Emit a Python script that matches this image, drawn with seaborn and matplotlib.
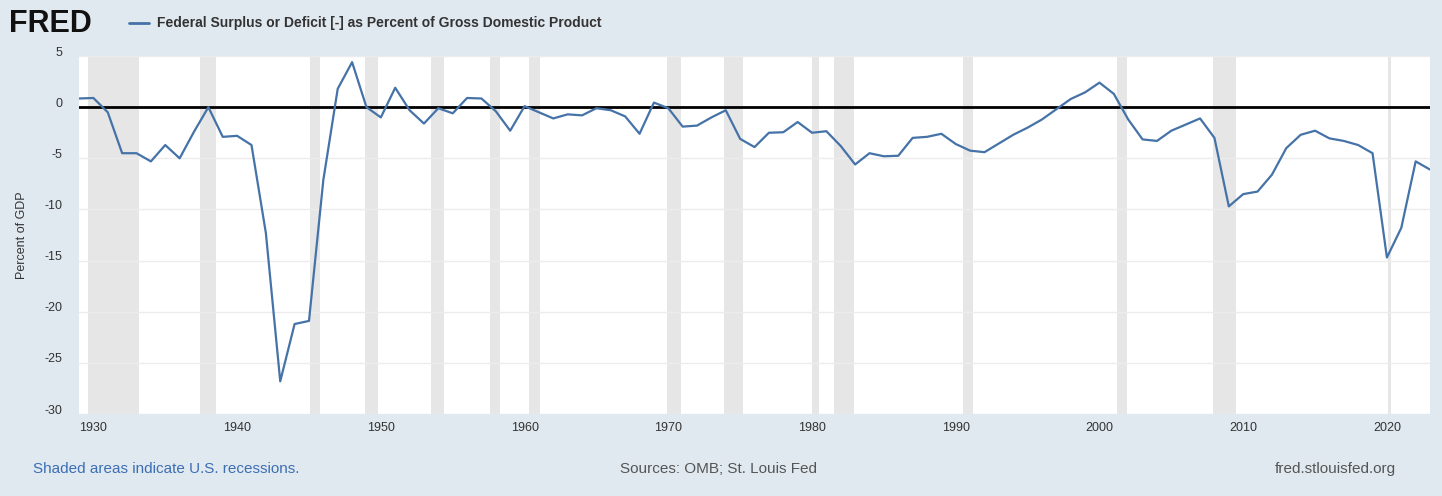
import numpy as np
import pandas as pd
import matplotlib
matplotlib.use("Agg")
import matplotlib.pyplot as plt
import matplotlib.transforms as mtransforms
import seaborn as sns

# Federal surplus or deficit [-] as % of GDP, annual 1929-2023
years = list(range(1929, 2024))
surplus_pct = [
    0.85, 0.9, -0.5, -4.5, -4.5, -5.3, -3.7, -5.0, -2.4, 0.0,      # 1929-1938
    -2.9, -2.8, -3.7, -12.3, -26.8, -21.2, -20.9, -7.1, 1.8, 4.4,  # 1939-1948
    0.0, -1.0, 1.9, -0.3, -1.6, -0.1, -0.6, 0.9, 0.85, -0.4,       # 1949-1958
    -2.3, 0.1, -0.5, -1.1, -0.7, -0.8, -0.1, -0.3, -0.9, -2.6,     # 1959-1968
    0.45, -0.1, -1.9, -1.8, -1.0, -0.3, -3.1, -3.9, -2.5, -2.45,   # 1969-1978
    -1.45, -2.5, -2.35, -3.8, -5.6, -4.5, -4.8, -4.75, -3.0, -2.9, # 1979-1988
    -2.6, -3.6, -4.25, -4.4, -3.55, -2.7, -2.0, -1.2, -0.2, 0.8,   # 1989-1998
    1.45, 2.4, 1.3, -1.2, -3.15, -3.3, -2.3, -1.7, -1.1, -3.0,     # 1999-2008
    -9.7, -8.5, -8.25, -6.6, -4.0, -2.7, -2.3, -3.05, -3.3, -3.7,  # 2009-2018
    -4.5, -14.7, -11.8, -5.3, -6.1,                                # 2019-2023
]

# NBER recessions (start, end) in fractional years
recession_start = [1929.6, 1937.4, 1945.1, 1948.9, 1953.5, 1957.6, 1960.3,
                   1969.9, 1973.9, 1980.0, 1981.5, 1990.5, 2001.2, 2007.9, 2020.1]
recession_end = [1933.2, 1938.5, 1945.8, 1949.8, 1954.4, 1958.3, 1961.1,
                 1970.9, 1975.2, 1980.5, 1982.9, 1991.2, 2001.9, 2009.5, 2020.3]

y_ticks = [5, 0, -5, -10, -15, -20, -25, -30]
x_ticks = list(range(1930, 2030, 10))

BG = "#e1e9f0"
LINE = "#4572a7"

df = pd.DataFrame({"year": years, "pct": surplus_pct})

sns.set_style("white")
plt.rcParams["font.family"] = ["Liberation Sans", "DejaVu Sans"]

fig = plt.figure(figsize=(14.42, 4.96), dpi=100, facecolor=BG)
ax = fig.add_axes([0.0548, 0.1653, 0.9369, 0.7217])
ax.set_facecolor("white")

for s, e in zip(recession_start, recession_end):
    ax.axvspan(s, e, color="#e6e6e6", lw=0, zorder=0)

for t in y_ticks:
    ax.axhline(t, color="#ececec", lw=1, zorder=0.5)

ax.axhline(0, color="black", lw=2, zorder=2)
sns.lineplot(data=df, x="year", y="pct", color=LINE, lw=1.6, ax=ax, zorder=3)

ax.set_xlim(1929, 2023)
ax.set_ylim(-30, 5)
ax.set_yticks(y_ticks)
ax.set_yticklabels([str(t) for t in y_ticks])
ax.set_xticks(x_ticks)
ax.tick_params(axis="y", length=0, pad=12, labelsize=9, labelcolor="#333333")
ax.tick_params(axis="x", length=4, color="#cccccc", pad=2, labelsize=9, labelcolor="#333333")
# FRED puts y labels slightly above their gridlines
offset = mtransforms.ScaledTranslation(0, 5 / 100, fig.dpi_scale_trans)
for lbl in ax.get_yticklabels():
    lbl.set_transform(lbl.get_transform() + offset)
for sp in ax.spines.values():
    sp.set_visible(False)
ax.set_xlabel("")
ax.set_ylabel("Percent of GDP", fontsize=9, color="#333333", labelpad=12)

# header
fig.text(0.006, 0.952, "FRED", fontsize=22, fontweight="heavy", color="#111111",
         va="center", ha="left")
fig.lines.append(plt.Line2D([0.0895, 0.1035], [0.954, 0.954], transform=fig.transFigure,
                            color=LINE, lw=2))
fig.text(0.109, 0.954, "Federal Surplus or Deficit [-] as Percent of Gross Domestic Product",
         fontsize=10, fontweight="bold", color="#333333", va="center", ha="left")

# footer
fig.text(0.023, 0.054, "Shaded areas indicate U.S. recessions.", fontsize=11,
         color="#3c6eb4", va="center", ha="left")
fig.text(0.498, 0.054, "Sources: OMB; St. Louis Fed", fontsize=11,
         color="#555555", va="center", ha="center")
fig.text(0.968, 0.054, "fred.stlouisfed.org", fontsize=11,
         color="#555555", va="center", ha="right")

fig.savefig("out.png", dpi=100, facecolor=BG)
